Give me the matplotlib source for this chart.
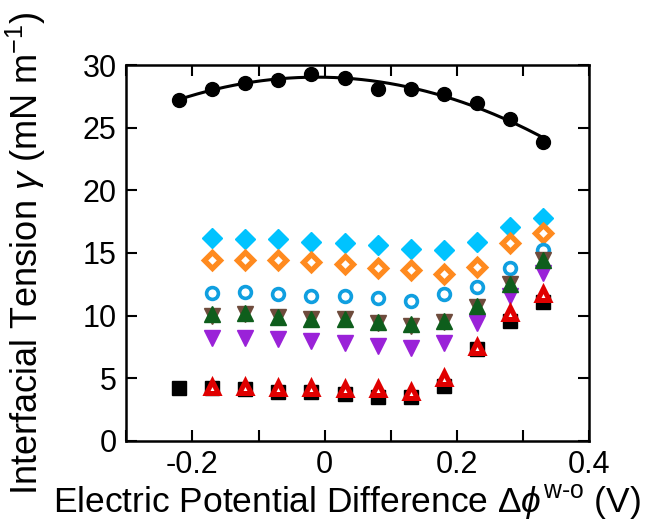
import numpy as np
import matplotlib
matplotlib.use("Agg")
import matplotlib.pyplot as plt

plt.rcParams['font.family'] = ['Liberation Sans', 'DejaVu Sans']
plt.rcParams['mathtext.fontset'] = 'custom'
plt.rcParams['mathtext.it'] = 'Liberation Sans:italic'
plt.rcParams['mathtext.rm'] = 'Liberation Sans'

# potential difference (V)
x_pure = [-0.22, -0.17, -0.12, -0.07, -0.02, 0.03, 0.08, 0.13, 0.18, 0.23, 0.28, 0.33]
x_sub = x_pure[1:]

# interfacial tension (mN/m)
y_pure = [27.2, 28.1, 28.6, 28.8, 29.3, 29.0, 28.1, 28.1, 27.7, 27.0, 25.7, 23.9]
y_cyan_dia = [16.2, 16.1, 16.1, 15.9, 15.8, 15.6, 15.3, 15.2, 15.9, 17.1, 17.8]
y_orange_dia = [14.4, 14.4, 14.4, 14.3, 14.1, 13.8, 13.6, 13.3, 13.9, 15.8, 16.6]
y_cyan_circ = [11.8, 11.9, 11.7, 11.6, 11.6, 11.4, 11.2, 11.7, 12.3, 13.8, 15.2]
y_brown = [10.0, 10.1, 9.9, 9.7, 9.7, 9.4, 9.2, 9.5, 10.7, 12.5, 14.4]
y_green = [10.1, 10.2, 9.9, 9.7, 9.7, 9.5, 9.3, 9.6, 10.8, 12.5, 14.4]
y_purple = [8.2, 8.2, 8.1, 8.0, 7.8, 7.6, 7.4, 7.8, 9.4, 11.6, 13.4]
y_square = [4.2, 4.2, 4.1, 3.9, 3.9, 3.7, 3.5, 3.5, 4.4, 7.3, 9.6, 11.1]
y_red = [4.3, 4.3, 4.2, 4.2, 4.1, 4.1, 3.9, 5.0, 7.5, 10.2, 11.7]

fig = plt.figure(figsize=(6.54, 5.21), dpi=100)
ax = fig.add_axes([0.193, 0.154, 0.708, 0.721])

# quadratic fit through the neat-interface points
coef = np.polyfit(x_pure, y_pure, 2)
xf = np.linspace(min(x_pure), max(x_pure), 200)
ax.plot(xf, np.polyval(coef, xf), color='black', lw=2.2, zorder=3)
ax.plot(x_pure, y_pure, 'o', color='black', ms=10, zorder=4)

ax.plot(x_sub, y_cyan_dia, 'D', color='#00C3FF', ms=10.5, zorder=3)
ax.plot(x_sub, y_orange_dia, 'D', mfc='white', mec='#FF8A1F', mew=3.8, ms=8.5, zorder=3)
ax.plot(x_sub, y_cyan_circ, 'o', mfc='white', mec='#109FE0', mew=2.6, ms=8.5, zorder=3)
ax.plot(x_sub, y_brown, 'v', color='#6E4B3C', ms=11, zorder=3)
ax.plot(x_sub, y_green, '^', color='#0E5E1C', ms=11, zorder=4)
ax.plot(x_sub, y_purple, 'v', color='#9A22D8', ms=11.5, zorder=3)
ax.plot(x_pure, y_square, 's', color='black', ms=10, zorder=3)
ax.plot(x_sub, y_red, '^', mfc='white', mec='#E00000', mew=3.6, ms=9, zorder=4)

ax.set_xlim(-0.3, 0.4)
ax.set_ylim(0, 30)
ax.set_xticks([-0.2, 0, 0.2, 0.4])
ax.set_xticklabels(['-0.2', '0', '0.2', '0.4'])
ax.set_xticks([-0.3, -0.1, 0.1, 0.3], minor=True)
ax.set_yticks([0, 5, 10, 15, 20, 25, 30])
ax.tick_params(which='both', direction='in', top=True, right=True,
               length=8, width=1.5, labelsize=22, pad=7)
for s in ax.spines.values():
    s.set_linewidth(1.8)

ax.set_xlabel(r'Electric Potential Difference $\Delta\phi^{\mathrm{w\text{-}o}}$ (V)', fontsize=25.5)
ax.set_ylabel(r'Interfacial Tension $\gamma$ (mN m$^{-1}$)', fontsize=26)
ax.xaxis.set_label_coords(0.477, -0.112, transform=ax.transAxes)
ax.yaxis.set_label_coords(-0.17, 0.5, transform=ax.transAxes)

fig.savefig('out.png', dpi=100)
